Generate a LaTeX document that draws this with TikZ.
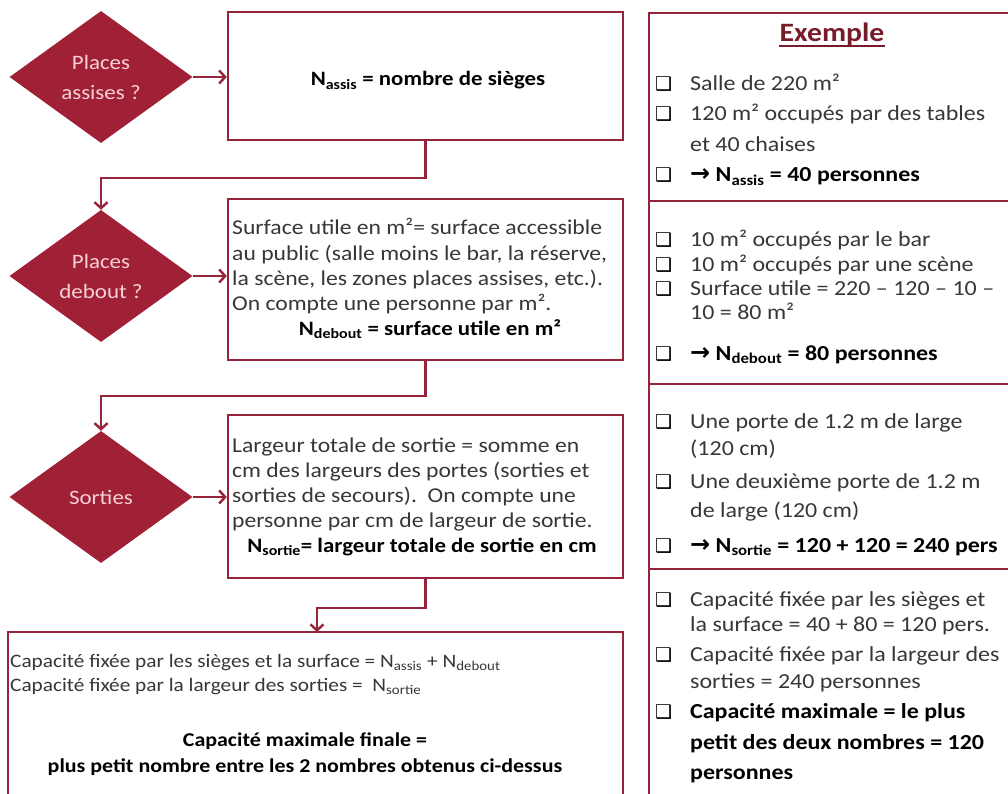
\documentclass[tikz,border=0pt]{standalone}
\usepackage{fontspec}
\setmainfont{Carlito}[FakeStretch=1.12]
\newfontfamily\djv{DejaVu Sans}
\usetikzlibrary{shapes.geometric,arrows.meta}
\definecolor{wine}{RGB}{160,32,54}
\definecolor{wineline}{RGB}{150,36,58}
\definecolor{pinktxt}{RGB}{246,208,214}
\definecolor{txtgray}{RGB}{55,55,55}
\definecolor{exred}{RGB}{120,28,42}
\newcommand{\cb}{{\djv\fontsize{19}{19}\selectfont ❑}}
\newcommand{\ar}{{\djv\bfseries\fontsize{24}{24}\selectfont →}}
\tikzset{
  lbox/.style={draw=wineline, line width=2.4pt, inner sep=0pt, fill=white},
  dia/.style={diamond, fill=wine, text=pinktxt, font=\fontsize{20.5}{30}\selectfont, align=center,
    minimum width=183pt, minimum height=132pt, inner sep=0pt},
  conn/.style={draw=wineline, line width=2.4pt},
  arr/.style={conn, -{Straight Barb[length=6pt,width=13pt]}},
  tl/.style={font=\fontsize{21.1}{25}\selectfont, text=txtgray, inner sep=0pt, anchor=base west},
  tlb/.style={font=\fontsize{20.4}{25}\selectfont\bfseries, text=black, inner sep=0pt, anchor=base},
  tr/.style={font=\fontsize{21.4}{25}\selectfont, text=txtgray, inner sep=0pt, anchor=base west},
  trb/.style={font=\fontsize{21.4}{25}\selectfont\bfseries, text=black, inner sep=0pt, anchor=base west},
  cbx/.style={inner sep=0pt, anchor=base west, text=black},
}
\begin{document}
\begin{tikzpicture}[x=1pt,y=-1pt]
\useasboundingbox (0,0) rectangle (1008,794);
\clip (0,0) rectangle (1008,794);
\fill[white] (0,0) rectangle (1008,794);

% ---------- left flow ----------
\node[dia] (d1) at (101,77) {Places\\assises ?};
\node[dia] (d2) at (101,276) {Places\\debout ?};
\node[dia] (d3) at (101,497) {Sorties};

\node[lbox, minimum width=395pt, minimum height=128pt] (b1) at (425.5,76) {};
\node[lbox, minimum width=395pt, minimum height=161pt] (b2) at (425.5,279.5) {};
\node[lbox, minimum width=395pt, minimum height=163pt] (b3) at (425.5,496.5) {};
\node[lbox, minimum width=615pt, minimum height=200pt] (b4) at (315.5,732) {};
\coordinate (b4in) at (317,632);

\draw[arr] (d1.east) -- (d1.east -| b1.west);
\draw[arr] (d2.east) -- (d2.east -| b2.west);
\draw[arr] (d3.east) -- (d3.east -| b3.west);
\draw[arr] (b1.south) -- ++(0,37) -| (d2.north);
\draw[arr] (b2.south) -- ++(0,35) -| (d3.north);
\draw[arr] (b3.south) -- ++(0,29) -| (b4in);

% box 1
\node[tlb] (b1t) at (428,86) {N\textsubscript{assis} = nombre de sièges};
% box 2
\node[tl] (b2l1) at (232,235) {Surface utile en m²= surface accessible};
\node[tl] (b2l2) at (232,260) {au public (salle moins le bar, la réserve,};
\node[tl] (b2l3) at (232,285) {la scène, les zones places assises, etc.).};
\node[tl] (b2l4) at (232,310) {On compte une personne par m².};
\node[tlb] (b2l5) at (430,335) {N\textsubscript{debout} = surface utile en m²};
% box 3
\node[tl] (b3l1) at (232,452) {Largeur totale de sortie = somme en};
\node[tl] (b3l2) at (232,477) {cm des largeurs des portes (sorties et};
\node[tl] (b3l3) at (232,502) {sorties de secours).\ \ On compte une};
\node[tl] (b3l4) at (232,527) {personne par cm de largeur de sortie.};
\node[tlb] (b3l5) at (422,552) {N\textsubscript{sortie}= largeur totale de sortie en cm};
% box 4
\node[tl, font=\fontsize{19}{23}\selectfont] (b4l1) at (10,667) {Capacité fixée par les sièges et la surface = N\textsubscript{assis} + N\textsubscript{debout}};
\node[tl, font=\fontsize{19}{23}\selectfont] (b4l2) at (10,691) {Capacité fixée par la largeur des sorties =\ \ N\textsubscript{sortie}};
\node[tlb, font=\fontsize{19.6}{24}\selectfont\bfseries] (b4l3) at (305,746) {Capacité maximale finale =};
\node[tlb, font=\fontsize{19.6}{24}\selectfont\bfseries] (b4l4) at (305,772) {plus petit nombre entre les 2 nombres obtenus ci-dessus};

% ---------- right panels ----------
\node[lbox, anchor=north west, minimum width=380pt, minimum height=188pt] (p1) at (648,12) {};
\node[lbox, anchor=north west, minimum width=380pt, minimum height=183pt] (p2) at (648,200) {};
\node[lbox, anchor=north west, minimum width=380pt, minimum height=185pt] (p3) at (648,383) {};
\node[lbox, anchor=north west, minimum width=380pt, minimum height=260pt] (p4) at (648,568) {};

\node[inner sep=0pt, anchor=base, font=\fontsize{26.5}{30}\selectfont\bfseries, text=exred] (ex) at (832,42) {Exemple};
\draw[exred, line width=1.6pt] ([yshift=-4pt]ex.base west) -- ([yshift=-4pt]ex.base east);

% panel 1
\node[cbx] (c11) at (655,91) {\cb};
\node[tr] (r11) at (690,91) {Salle de 220 m²};
\node[cbx] (c12) at (655,121) {\cb};
\node[tr] (r12) at (690,121) {120 m² occupés par des tables};
\node[tr] (r13) at (690,152) {et 40 chaises};
\node[cbx] (c14) at (655,182) {\cb};
\node[trb] (r14) at (690,182) {\ar\ N\textsubscript{assis} = 40 personnes};

% panel 2
\node[cbx] (c21) at (655,246) {\cb};
\node[tr] (r21) at (690,246) {10 m² occupés par le bar};
\node[cbx] (c22) at (655,271) {\cb};
\node[tr] (r22) at (690,271) {10 m² occupés par une scène};
\node[cbx] (c23) at (655,295) {\cb};
\node[tr] (r23) at (690,295) {Surface utile = 220 – 120 – 10 –};
\node[tr] (r24) at (690,319) {10 = 80 m²};
\node[cbx] (c25) at (655,360) {\cb};
\node[trb] (r25) at (690,360) {\ar\ N\textsubscript{debout} = 80 personnes};

% panel 3
\node[cbx] (c31) at (655,428) {\cb};
\node[tr] (r31) at (690,428) {Une porte de 1.2 m de large};
\node[tr] (r32) at (690,455) {(120 cm)};
\node[cbx] (c33) at (655,488) {\cb};
\node[tr] (r33) at (690,488) {Une deuxième porte de 1.2 m};
\node[tr] (r34) at (690,517) {de large (120 cm)};
\node[cbx] (c35) at (655,552) {\cb};
\node[trb] (r35) at (690,552) {\ar\ N\textsubscript{sortie} = 120 + 120 = 240 pers};

% panel 4
\node[cbx] (c41) at (655,606) {\cb};
\node[tr] (r41) at (690,606) {Capacité fixée par les sièges et};
\node[tr] (r42) at (690,631) {la surface = 40 + 80 = 120 pers.};
\node[cbx] (c43) at (655,661) {\cb};
\node[tr] (r43) at (690,661) {Capacité fixée par la largeur des};
\node[tr] (r44) at (690,688) {sorties = 240 personnes};
\node[cbx] (c45) at (655,718) {\cb};
\node[trb] (r45) at (690,718) {Capacité maximale = le plus};
\node[trb] (r46) at (690,749) {petit des deux nombres = 120};
\node[trb] (r47) at (690,779) {personnes};
\end{tikzpicture}
\end{document}
